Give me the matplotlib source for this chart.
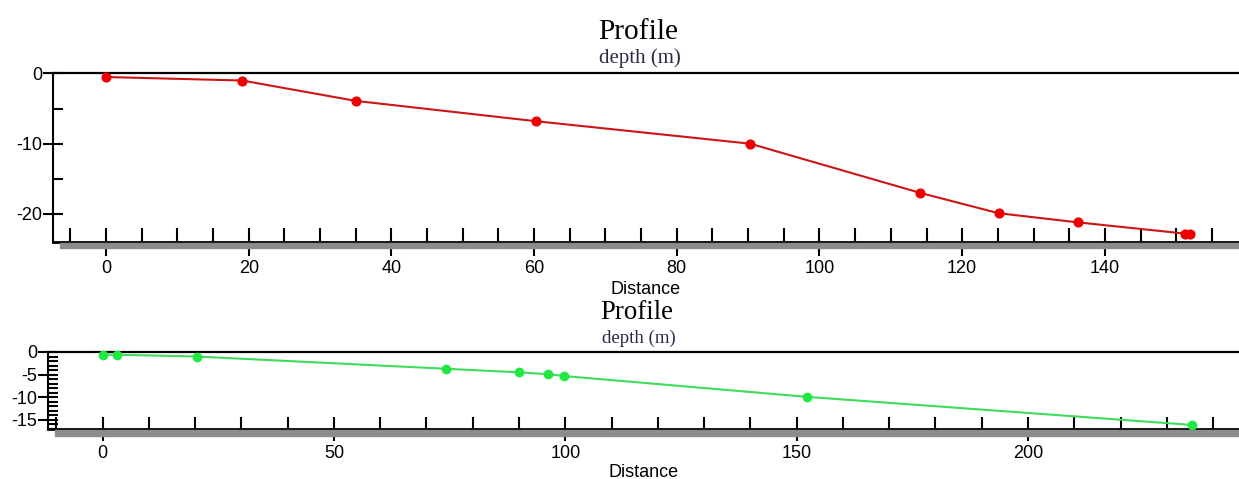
import matplotlib
matplotlib.use("Agg")
import matplotlib.pyplot as plt
from matplotlib.patches import Rectangle
from matplotlib.ticker import MultipleLocator, FixedLocator

# ---- data ----
red_x = [0, 19.1, 35.0, 60.3, 90.3, 114.1, 125.1, 136.2, 151.2, 151.9]
red_y = [-0.5, -1.0, -3.9, -6.8, -10.0, -17.0, -19.9, -21.2, -22.8, -22.8]

green_x = [0, 3.1, 20.3, 74.2, 90.1, 96.3, 99.7, 152.2, 235.4]
green_y = [-0.6, -0.6, -1.0, -3.7, -4.5, -4.9, -5.3, -9.9, -16.1]

top_xticks = [0, 20, 40, 60, 80, 100, 120, 140]
top_yticks = [0, -10, -20]
bot_xticks = [0, 50, 100, 150, 200]
bot_yticks = [0, -5, -10, -15]

title_text = "Profile"
subtitle_text = "depth (m)"
xlabel_text = "Distance"

W, H = 1239, 479
plt.rcParams['font.family'] = ['Liberation Sans', 'DejaVu Sans']
plt.rcParams['axes.unicode_minus'] = False
fig = plt.figure(figsize=(W / 100, H / 100), dpi=100)


def px(x0, y0, x1, y1):
    return [x0 / W, 1 - y1 / H, (x1 - x0) / W, (y1 - y0) / H]


def style(ax, xmaj, xmin_step, ymaj, ymin, xlen, ylen):
    ax.spines['right'].set_visible(False)
    ax.spines['top'].set_linewidth(1.6)
    ax.spines['bottom'].set_linewidth(2.0)
    ax.spines['left'].set_linewidth(1.5)
    ax.xaxis.set_major_locator(FixedLocator(xmaj))
    ax.xaxis.set_minor_locator(MultipleLocator(xmin_step))
    ax.yaxis.set_major_locator(FixedLocator(ymaj))
    ax.yaxis.set_minor_locator(FixedLocator(ymin))
    ax.tick_params(axis='x', which='major', direction='inout', length=xlen, width=1.5,
                   labelsize=13, pad=3, top=False)
    ax.tick_params(axis='x', which='minor', direction='in', length=xlen / 2, width=1.5, top=False)
    ax.tick_params(axis='y', which='major', direction='inout', length=ylen, width=1.5,
                   labelsize=13, pad=1, right=False)
    ax.tick_params(axis='y', which='minor', direction='in', length=ylen / 2, width=1.5, right=False)
    ax.set_facecolor('white')


# top panel
ax1 = fig.add_axes(px(53, 73.5, 1239, 242))
ax1.plot(red_x, red_y, color='#cc1515', lw=1.5, marker='o', ms=6.3,
         mfc='#ee0000', mec='#ee0000', zorder=3, clip_on=False)
ax1.set_xlim(-7.43, 158.8)
ax1.set_ylim(-24, 0)
style(ax1, top_xticks, 5, top_yticks, [-5, -15], 19.5, 14)
ax1.set_xlabel(xlabel_text, fontsize=13, labelpad=3)

# bottom panel
ax2 = fig.add_axes(px(48, 352, 1239, 429))
ax2.plot(green_x, green_y, color='#3ddc5a', lw=1.5, marker='o', ms=6.0,
         mfc='#22e845', mec='#22e845', zorder=3, clip_on=False)
ax2.set_xlim(-11.8, 245.6)
ax2.set_ylim(-17, 0)
style(ax2, bot_xticks, 10, bot_yticks, list(range(-1, -18, -1)), 17.5, 14)
ax2.set_xlabel(xlabel_text, fontsize=13, labelpad=1)

# shadows under x axes
fig.patches.append(Rectangle((60 / W, 1 - 248.5 / H), (W - 60) / W, 5.5 / H,
                             transform=fig.transFigure, color='#8c8c8c', zorder=0))
fig.patches.append(Rectangle((55 / W, 1 - 435.5 / H), (W - 55) / W, 5.5 / H,
                             transform=fig.transFigure, color='#8c8c8c', zorder=0))

# titles
fig.text(638 / W, 1 - 39 / H, title_text, family='Liberation Serif', fontsize=21.2,
         ha='center', va='baseline', color='black')
fig.text(640 / W, 1 - 62.5 / H, subtitle_text, family='Liberation Serif', fontsize=15,
         ha='center', va='baseline', color='#2a2a48')
fig.text(637 / W, 1 - 319 / H, title_text, family='Liberation Serif', fontsize=19.3,
         ha='center', va='baseline', color='black')
fig.text(639 / W, 1 - 343 / H, subtitle_text, family='Liberation Serif', fontsize=13.6,
         ha='center', va='baseline', color='#2a2a48')

fig.savefig('out.png', dpi=100)
